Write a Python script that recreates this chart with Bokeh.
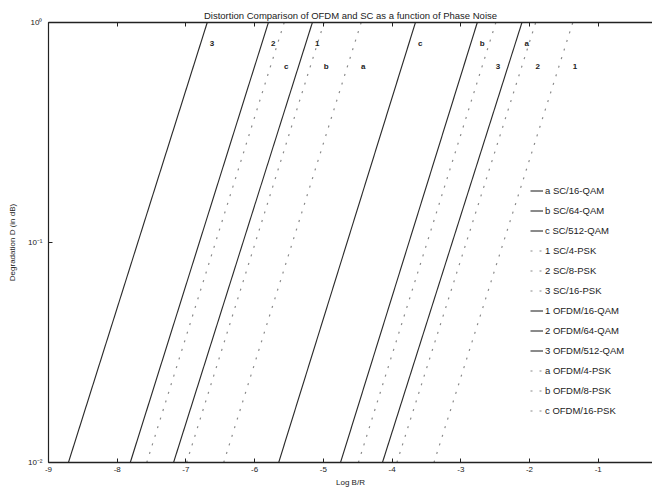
from bokeh.plotting import figure
from bokeh.models import FixedTicker, LinearAxis, Legend, LegendItem, Range1d
from bokeh.embed import file_html
from bokeh.resources import INLINE
from bokeh.core.properties import value

# ---------------- data ----------------
title_text = "Distortion Comparison of OFDM and SC as a function of Phase Noise"
x_label = "Log B/R"
y_label = "Degradation D (in dB)"
x_ticks = [-9, -8, -7, -6, -5, -4, -3, -2, -1]
x_tick_labels = ["-9", "-8", "-7", "-6", "-5", "-4", "-3", "-2", "-1"]
y_ticks = [0.01, 0.1, 1.0]
y_tick_labels = ["10\u207b\u00b2", "10\u207b\u00b9", "10\u2070"]
d_low, d_high = 0.01, 1.0          # degradation at the two ends of every line

# SC, QAM  (solid)
sc_qam_names = ["SC/16-QAM", "SC/64-QAM", "SC/512-QAM"]
sc_qam_tags = ["a", "b", "c"]
sc_qam_top = [-2.11, -2.76, -3.66]      # Log B/R where D = 1
sc_qam_bottom = [-4.14, -4.75, -5.65]   # Log B/R where D = 0.01

# SC, PSK  (dashed)
sc_psk_names = ["SC/4-PSK", "SC/8-PSK", "SC/16-PSK"]
sc_psk_tags = ["1", "2", "3"]
sc_psk_top = [-1.37, -1.91, -2.49]
sc_psk_bottom = [-3.39, -3.93, -4.49]

# OFDM, QAM  (solid)
ofdm_qam_names = ["OFDM/16-QAM", "OFDM/64-QAM", "OFDM/512-QAM"]
ofdm_qam_tags = ["1", "2", "3"]
ofdm_qam_top = [-5.16, -5.80, -6.69]
ofdm_qam_bottom = [-7.18, -7.81, -8.71]

# OFDM, PSK  (dashed)
ofdm_psk_names = ["OFDM/4-PSK", "OFDM/8-PSK", "OFDM/16-PSK"]
ofdm_psk_tags = ["a", "b", "c"]
ofdm_psk_top = [-4.45, -4.99, -5.57]
ofdm_psk_bottom = [-6.45, -6.99, -7.57]

# ---------------- figure ----------------
FONT = "Liberation Sans"
INK = "#222222"
p = figure(width=652, height=489, y_axis_type="log",
           x_range=Range1d(-9, -0.21), y_range=Range1d(d_low, d_high),
           output_backend="svg", toolbar_location=None,
           min_border_left=48, min_border_right=0,
           min_border_top=22, min_border_bottom=23)
p.outline_line_color = None
p.xgrid.grid_line_color = None
p.ygrid.grid_line_color = None
p.background_fill_color = "white"
p.border_fill_color = "white"

p.title.text = title_text
p.title.align = "center"
p.title.offset = 6
p.title.text_font = FONT
p.title.text_font_size = "9.5px"
p.title.text_font_style = "normal"
p.title.text_color = INK
p.title.standoff = 3

xb = p.below[0]
xb.ticker = FixedTicker(ticks=x_ticks)
xb.major_label_overrides = {t: s for t, s in zip(x_ticks, x_tick_labels)}
xb.axis_label = x_label
xb.axis_label_text_font = FONT
xb.axis_label_text_font_size = "8px"
xb.axis_label_text_font_style = "normal"
xb.axis_label_text_color = INK
xb.axis_label_standoff = 3
xb.major_label_text_font = FONT
xb.major_label_text_font_size = "8px"
xb.major_label_text_color = INK
xb.major_label_standoff = 4
xb.major_tick_in = 4
xb.major_tick_out = 0
xb.minor_tick_line_color = None
xb.axis_line_color = INK
xb.axis_line_width = 1.5
xb.major_tick_line_color = INK

yl = p.left[0]
yl.ticker = FixedTicker(ticks=y_ticks)
yl.major_label_overrides = {t: s for t, s in zip(y_ticks, y_tick_labels)}
yl.axis_label = y_label
yl.axis_label_text_font = FONT
yl.axis_label_text_font_size = "8px"
yl.axis_label_text_font_style = "normal"
yl.axis_label_text_color = INK
yl.axis_label_standoff = 8
yl.major_label_text_font = FONT
yl.major_label_text_font_size = "8px"
yl.major_label_text_color = INK
yl.major_label_standoff = 6
yl.major_tick_in = 4
yl.major_tick_out = 0
yl.minor_tick_line_color = None
yl.axis_line_color = INK
yl.axis_line_width = 1.2
yl.major_tick_line_color = INK

# top border of the box, with inward ticks and no labels
top_axis = LinearAxis(ticker=FixedTicker(ticks=x_ticks),
                      major_label_text_font_size="1px",
                      major_label_text_color=None, major_label_standoff=0,
                      major_tick_in=4, major_tick_out=0,
                      minor_tick_line_color=None,
                      axis_line_color=INK, axis_line_width=1.5,
                      major_tick_line_color=INK)
p.add_layout(top_axis, "above")

SOLID = dict(line_color="#2a2a2a", line_width=1.1)
DASHED = dict(line_color="#8a8a8a", line_width=1.2, line_dash="2 7")


def draw_group(names, tags, tops, bottoms, style):
    out = []
    for name, tag, xt, xbm in zip(names, tags, tops, bottoms):
        r = p.line([xbm, xt], [d_low, d_high], **style)
        out.append((tag + " " + name, r))
    return out


g_sc_qam = draw_group(sc_qam_names, sc_qam_tags, sc_qam_top, sc_qam_bottom, SOLID)
g_sc_psk = draw_group(sc_psk_names, sc_psk_tags, sc_psk_top, sc_psk_bottom, DASHED)
g_ofdm_qam = draw_group(ofdm_qam_names, ofdm_qam_tags, ofdm_qam_top, ofdm_qam_bottom, SOLID)
g_ofdm_psk = draw_group(ofdm_psk_names, ofdm_psk_tags, ofdm_psk_top, ofdm_psk_bottom, DASHED)

# tags written next to the lines near the top
row1_x = [x + 0.07 for x in ofdm_qam_top + sc_qam_top]
row1_t = ofdm_qam_tags + sc_qam_tags
row2_x = [x + 0.03 for x in ofdm_psk_top + sc_psk_top]
row2_t = ofdm_psk_tags + sc_psk_tags
p.text(row1_x, [0.80] * len(row1_x), text=row1_t, text_font=value(FONT),
       text_font_size="8px", text_font_style="bold", text_color=INK,
       text_align="center", text_baseline="middle")
p.text(row2_x, [0.63] * len(row2_x), text=row2_t, text_font=value(FONT),
       text_font_size="8px", text_font_style="bold", text_color=INK,
       text_align="center", text_baseline="middle")

items = [LegendItem(label=lab, renderers=[r])
         for lab, r in g_sc_qam + g_sc_psk + g_ofdm_qam + g_ofdm_psk]
legend = Legend(items=items, location=(482, 46),
                border_line_color=None, background_fill_alpha=0,
                label_text_font=FONT, label_text_font_size="9.5px",
                label_text_color=INK,
                glyph_width=13, glyph_height=11, label_height=11,
                spacing=9, padding=0, margin=0, label_standoff=2)
p.add_layout(legend)

open("out.html", "w").write(file_html(p, INLINE))
